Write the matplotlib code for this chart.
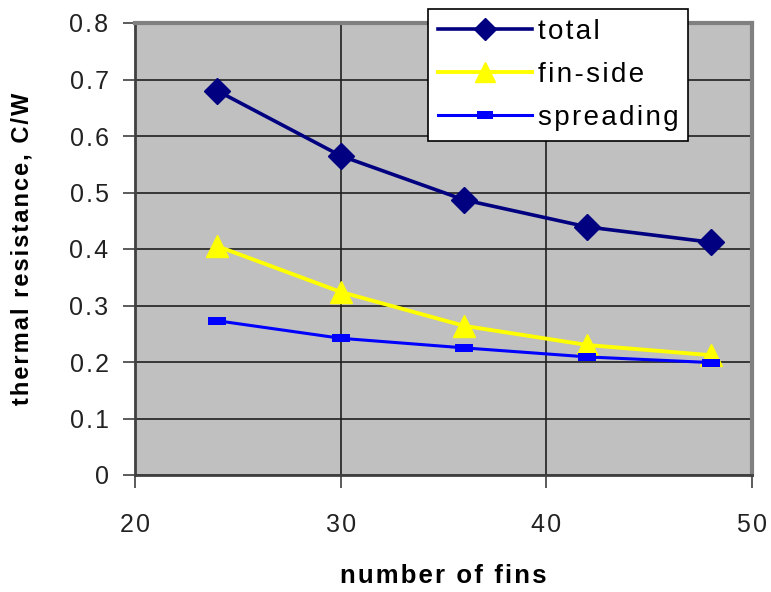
import matplotlib as mpl
mpl.use("Agg")
import matplotlib.pyplot as plt

fins = [24, 30, 36, 42, 48]
total = [0.68, 0.565, 0.487, 0.439, 0.412]
fin_side = [0.405, 0.324, 0.264, 0.230, 0.212]
spreading = [0.273, 0.242, 0.225, 0.209, 0.199]

x_ticks = [20, 30, 40, 50]
y_ticks = [0, 0.1, 0.2, 0.3, 0.4, 0.5, 0.6, 0.7, 0.8]

FONT = ["Liberation Sans", "DejaVu Sans"]
plt.rcParams.update({"font.family": FONT})

# flat rectangle marker like Excel's "spreading" series
RECT = [(-1, -0.45), (1, -0.45), (1, 0.45), (-1, 0.45), (-1, -0.45)]


def spaced(s):
    # Excel-like loose letter spacing using hair spaces
    return "\u200a".join(s)


fig = plt.figure(figsize=(7.71, 5.92), dpi=100)
ax = fig.add_axes([135 / 771, 1 - 475 / 592, 617 / 771, 452 / 592])
ax.set_facecolor("#C0C0C0")

ax.plot(fins, total, color="#000080", lw=2.6, marker="D", ms=13,
        label=spaced("total"), zorder=3)
ax.plot(fins, fin_side, color="#FFFF00", lw=2.8, marker="^", ms=16,
        label=spaced("fin-side"), zorder=3)
ax.plot(fins, spreading, color="#0000FF", lw=2.2, marker=RECT, ms=13,
        markeredgewidth=0, label=spaced("spreading"), zorder=3)

ax.set_xlim(20, 50)
ax.set_ylim(0, 0.8)
ax.set_xticks(x_ticks)
ax.set_xticklabels([spaced(str(v)) for v in x_ticks])
ax.set_yticks(y_ticks)
ax.set_yticklabels([spaced("0" if v == 0 else f"{v:.1f}") for v in y_ticks])
ax.grid(True, color="#202020", lw=1.2, zorder=1)
ax.set_axisbelow(True)
ax.tick_params(labelsize=18, length=9, width=1.2, color="#404040",
               colors="#222222")
ax.tick_params(axis="y", pad=10)
ax.tick_params(axis="x", pad=18)

for side in ("left", "bottom"):
    ax.spines[side].set_color("#404040")
    ax.spines[side].set_linewidth(2)
for side in ("top", "right"):
    ax.spines[side].set_color("#808080")
    ax.spines[side].set_linewidth(3)

ax.set_xlabel(spaced("number of fins"), fontsize=18.5, fontweight="bold",
              labelpad=20)
ax.set_ylabel(spaced("thermal resistance, C/W"), fontsize=17,
              fontweight="bold", labelpad=26)

leg = fig.legend(loc="upper left", bbox_to_anchor=(428 / 771, 1 - 9 / 592),
                 fontsize=20, frameon=True, fancybox=False, edgecolor="black",
                 framealpha=1, borderpad=0.35, handlelength=3.4,
                 labelspacing=0.62, handletextpad=0.2, borderaxespad=0,
                 markerscale=0.9)
leg.get_frame().set_linewidth(1.2)

fig.savefig("out.png", dpi=100)
